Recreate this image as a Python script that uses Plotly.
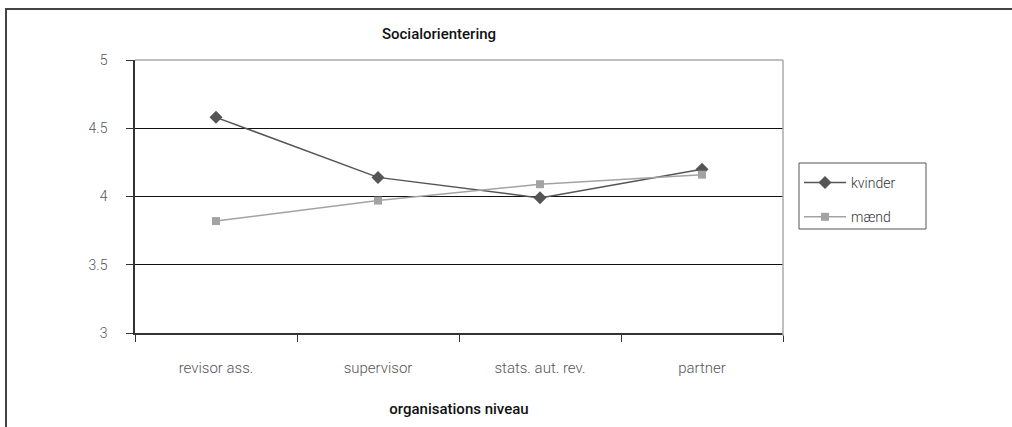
import plotly.graph_objects as go

categories = ["revisor ass.", "supervisor", "stats. aut. rev.", "partner"]
kvinder = [4.58, 4.14, 3.99, 4.20]
maend = [3.82, 3.97, 4.09, 4.16]
y_ticks = [3, 3.5, 4, 4.5, 5]
y_tick_labels = ["3", "3.5", "4", "4.5", "5"]

W, H = 1012, 427
L, R, T, B = 135, 229, 60, 94
pw, ph = W - L - R, H - T - B

def px_x(x):
    return (x - L) / pw

def px_y(y):
    return (H - B - y) / ph

fig = go.Figure()
fig.add_trace(go.Scatter(
    x=categories, y=kvinder, name="kvinder", mode="lines+markers",
    line=dict(color="#555555", width=1.5),
    marker=dict(symbol="diamond", size=10, color="#555555"),
    legendgroup="k",
))
fig.add_trace(go.Scatter(
    x=categories, y=maend, name="mænd", mode="lines+markers",
    line=dict(color="#a3a3a3", width=1.5),
    marker=dict(symbol="square", size=8, color="#a3a3a3"),
    legendgroup="m",
))

font_family = "Roboto, DejaVu Sans, sans-serif"

fig.update_layout(
    width=W, height=H,
    margin=dict(l=L, r=R, t=T, b=B, pad=0, autoexpand=False),
    paper_bgcolor="white", plot_bgcolor="white",
    font=dict(family=font_family, size=12, color="#555555"),
    showlegend=True,
    legend=dict(
        x=px_x(799), y=px_y(167), xanchor="left", yanchor="top",
        borderwidth=0, bgcolor="rgba(0,0,0,0)",
        font=dict(size=14, color="#333333", weight=300),
        traceorder="grouped", tracegroupgap=13, itemwidth=42,
    ),
    xaxis=dict(
        type="category", range=[-0.5, 3.5], automargin=False,
        showline=True, linecolor="#333333", linewidth=1.5,
        ticks="outside", tickson="boundaries", ticklen=7, tickcolor="#333333",
        showgrid=False, zeroline=False,
        tickfont=dict(size=15, color="#555555", weight=300),
        ticklabelstandoff=20,
        title=dict(text="organisations niveau", font=dict(size=15, color="#111111", weight=500), standoff=28),
    ),
    yaxis=dict(
        range=[3, 5], tickvals=y_ticks, ticktext=y_tick_labels, automargin=False,
        showline=True, linecolor="#333333", linewidth=1.5,
        ticks="outside", ticklen=7, tickcolor="#333333",
        showgrid=True, gridcolor="#111111", gridwidth=1,
        zeroline=False,
        tickfont=dict(size=14, color="#555555", weight=300),
        ticklabelstandoff=16,
    ),
    title=dict(
        text="Socialorientering", x=439 / W, xanchor="center",
        y=1 - 34 / H, yanchor="middle",
        font=dict(size=15, color="#111111", weight=500),
    ),
)

# gray top and right plot border
fig.add_shape(type="line", xref="paper", yref="paper", x0=0, x1=1, y0=1, y1=1,
              line=dict(color="#aaaaaa", width=1.5))
fig.add_shape(type="line", xref="paper", yref="paper", x0=1, x1=1, y0=px_y(336), y1=1,
              line=dict(color="#aaaaaa", width=1.5))
# legend frame
fig.add_shape(type="rect", xref="paper", yref="paper",
              x0=px_x(799), x1=px_x(926), y0=px_y(229), y1=px_y(163),
              line=dict(color="#555555", width=1), fillcolor="rgba(0,0,0,0)")
# outer frame: only left and top edges fall inside the canvas
fig.add_shape(type="rect", xref="paper", yref="paper",
              x0=px_x(6), x1=px_x(1040), y0=px_y(460), y1=px_y(9),
              line=dict(color="#444444", width=2), fillcolor="rgba(0,0,0,0)")

fig.write_html("out.html", config={"displayModeBar": False})
